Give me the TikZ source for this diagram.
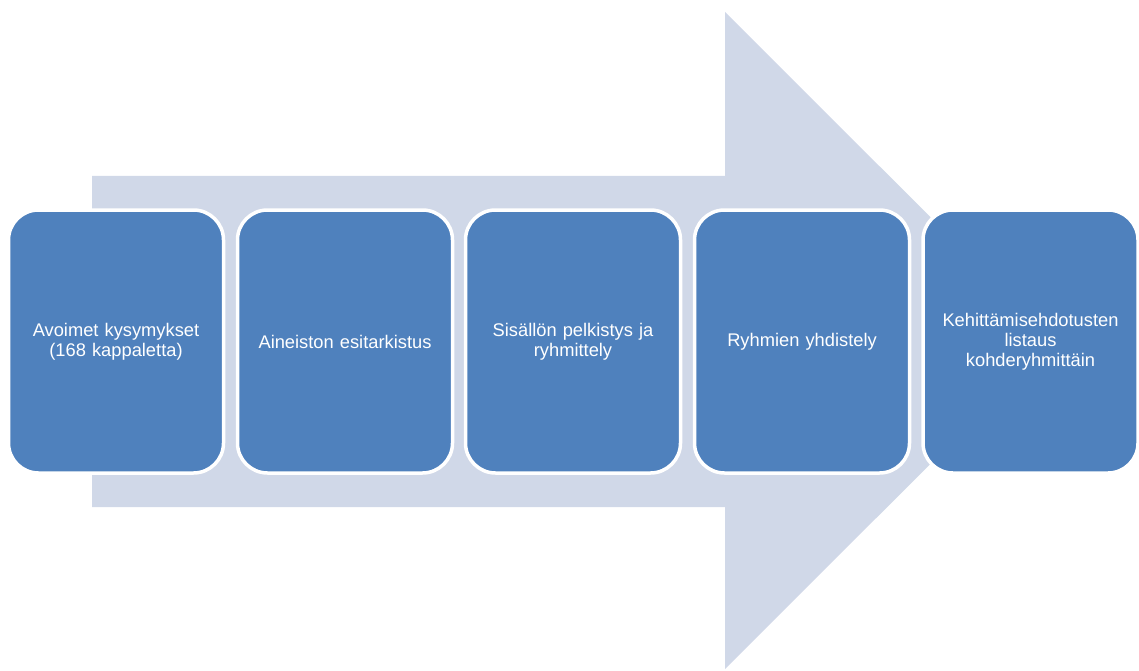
\documentclass[tikz,border=0pt]{standalone}
\usepackage{fontspec}
\setmainfont{Liberation Sans}
\definecolor{boxblue}{HTML}{4F81BD}
\definecolor{arrowgrey}{HTML}{D0D8E8}
\tikzset{
	stepbox/.style={rectangle, rounded corners=30pt, fill=boxblue, draw=white, line width=3.5pt,
		minimum width=215pt, minimum height=263pt, text width=196pt, align=center,
		text=white, font=\fontsize{18.3}{20}\selectfont, inner sep=0pt}
}
\begin{document}
\begin{tikzpicture}[x=1pt, y=-1pt]
		\useasboundingbox (0, 0) rectangle (1139, 671);
		
		\fill[arrowgrey] (92, 176) -- (725, 176) -- (725, 12) -- (1054, 340.5) -- (725, 669) -- (725, 507) -- (92, 507) -- cycle;
		
		\node[stepbox] (a) at (116, 341.5)		{Avoimet kysymykset\\(168 kappaletta)};
		\node[stepbox] (b) at (345, 341.5)		{Aineiston esitarkistus};
		\node[stepbox] (c) at (573, 341.5)		{Sisällön pelkistys ja\\ryhmittely};
		\node[stepbox] (d) at (802, 341.5)		{Ryhmien yhdistely};
		\node[stepbox] (e) at (1030.5, 341.5)	{Kehittämisehdotusten\\listaus\\kohderyhmittäin};
	\end{tikzpicture}
\end{document}
